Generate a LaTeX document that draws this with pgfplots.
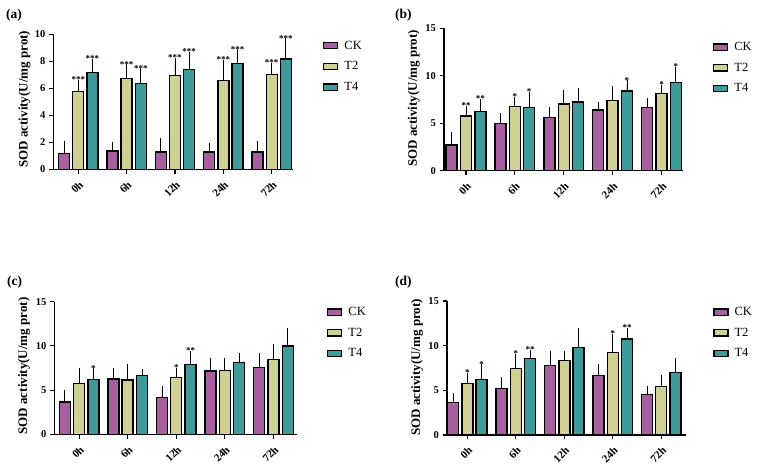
\documentclass[border=0pt]{standalone}
\usepackage{pgfplots}
\pgfplotsset{compat=1.18}
\usepackage{pgfplotstable}
\usepackage{fontspec}
\setmainfont{Liberation Serif}
\definecolor{ckc}{HTML}{A85FA0}
\definecolor{t2c}{HTML}{D0CF94}
\definecolor{t4c}{HTML}{3E9B9A}

\pgfplotstableread{
g ck cke t2 t2e t4 t4e ckl t2l t4l
0 1.19 0.62 5.78 0.62 7.20 0.74 {} *** ***
1 1.36 0.40 6.75 0.77 6.38 0.84 {} *** ***
2 1.29 0.77 6.95 1.04 7.42 1.02 {} *** ***
3 1.29 0.42 6.60 1.24 7.84 0.80 {} *** ***
4 1.27 0.60 7.05 0.60 8.19 1.26 {} *** ***
}\dataA
\pgfplotstableread{
g ck cke t2 t2e t4 t4e ckl t2l t4l
0 2.69 1.05 5.77 0.66 6.22 0.95 {} ** **
1 4.97 0.73 6.75 0.63 6.64 1.30 {} * *
2 5.63 0.70 7.03 1.08 7.24 1.12 {} {} {}
3 6.40 0.52 7.38 1.22 8.39 0.77 {} {} *
4 6.68 0.60 8.11 0.56 9.30 1.30 {} * *
}\dataB
\pgfplotstableread{
g ck cke t2 t2e t4 t4e ckl t2l t4l
0 3.67 0.94 5.77 1.28 6.22 0.83 {} {} *
1 6.26 0.83 6.15 1.46 6.64 0.33 {} {} {}
2 4.16 0.94 6.45 0.64 7.87 1.17 {} * **
3 7.16 1.13 7.20 1.01 8.14 0.71 {} {} {}
4 7.54 1.31 8.47 1.32 10.01 1.65 {} {} {}
}\dataC
\pgfplotstableread{
g ck cke t2 t2e t4 t4e ckl t2l t4l
0 3.66 0.67 5.75 0.82 6.23 1.27 {} * *
1 5.22 0.90 7.46 1.27 8.54 0.60 {} * **
2 7.80 1.23 8.36 0.63 9.78 1.82 {} {} {}
3 6.64 0.93 9.25 1.68 10.75 0.82 {} * **
4 4.51 0.60 5.41 0.97 7.01 1.27 {} {} {}
}\dataD

\pgfplotsset{
  sod/.style={
    scale only axis,
    anchor=south west,
    axis lines*=left,
    axis line style={line width=1.4pt},
    tick align=outside,
    major tick length=4.5pt,
    tick style={line width=1.1pt, black},
    ymin=0,
    xtick={0,1,2,3,4},
    xticklabels={0h,6h,12h,24h,72h},
    /pgf/number format/assume math mode=true,
    tick label style={font=\fontsize{10.5}{11}\selectfont\bfseries},
    x tick label style={font=\fontsize{11}{11}\selectfont\bfseries, rotate=45, anchor=north east, inner sep=0pt, xshift=-4.2pt, yshift=-4.6pt},
    ylabel={SOD activity(U/mg prot)},
    ylabel style={font=\fontsize{13}{13}\selectfont\bfseries, anchor=center},
    legend style={draw=none, fill=none, inner sep=0pt, row sep=7pt,
      font=\fontsize{12.5}{12}\selectfont, anchor=north west,
      /tikz/every odd column/.append style={column sep=4pt}},
    legend cell align=left,
    clip=false,
  },
  sbar/.style={ybar, bar width=11pt, bar shift=0pt, fill=#1, draw=black, line width=1.4pt, forget plot,
    error bars/.cd, y dir=plus, y explicit,
    error bar style={line width=0.9pt, black},
    error mark options={line width=0.9pt, black, mark size=3.5pt}},
  sleg/.style={legend image code/.code={\draw[fill=#1, draw=black, line width=1.3pt] (0pt,-3.2pt) rectangle (14pt,3.2pt);}},
  slab/.style={draw=none, mark=none, forget plot, nodes near coords,
    point meta=explicit symbolic,
    every node near coord/.append style={font=\fontsize{9}{8}\selectfont\bfseries, inner sep=0.5pt, anchor=south}},
}

\newcommand{\panel}[1]{%
  \addplot[sbar=ckc] table[x expr=\thisrow{g}-0.294, y=ck, y error=cke] {#1};
  \addplot[sbar=t2c] table[x expr=\thisrow{g}, y=t2, y error=t2e] {#1};
  \addplot[sbar=t4c] table[x expr=\thisrow{g}+0.294, y=t4, y error=t4e] {#1};
  \addplot[slab] table[x expr=\thisrow{g}-0.294, y expr=\thisrow{ck}+\thisrow{cke}, meta=ckl] {#1};
  \addplot[slab] table[x expr=\thisrow{g}, y expr=\thisrow{t2}+\thisrow{t2e}, meta=t2l] {#1};
  \addplot[slab] table[x expr=\thisrow{g}+0.294, y expr=\thisrow{t4}+\thisrow{t4e}, meta=t4l] {#1};
  \addlegendimage{sleg=ckc}\addlegendentry{CK}
  \addlegendimage{sleg=t2c}\addlegendentry{T2}
  \addlegendimage{sleg=t4c}\addlegendentry{T4}
}

\begin{document}
\begin{tikzpicture}
\useasboundingbox (0pt,0pt) rectangle (757pt,476pt);
% (a)
\begin{axis}[sod, at={(53.5pt,306.7pt)}, width=239.5pt, height=134.8pt,
  xmin=-0.512, xmax=4.44, ymax=10, ytick={0,2,4,6,8,10},
  ylabel style={at={(axis description cs:-0.121,0.52)}},
  legend style={at={(axis description cs:1.125,0.97)}}]
\panel{\dataA}
\end{axis}
% (b)
\begin{axis}[sod, at={(444pt,305.3pt)}, width=239pt, height=142.4pt,
  xmin=-0.45, xmax=4.44, ymax=15, ytick={0,5,10,15},
  ylabel style={at={(axis description cs:-0.126,0.508)}},
  legend style={at={(axis description cs:1.125,0.918)}}]
\panel{\dataB}
\end{axis}
% (c)
\begin{axis}[sod, at={(54.3pt,41.7pt)}, width=243pt, height=132.6pt,
  xmin=-0.51, xmax=4.49, ymax=15, ytick={0,5,10,15},
  ylabel style={at={(axis description cs:-0.125,0.515)}},
  legend style={at={(axis description cs:1.122,0.975)}}]
\panel{\dataC}
\end{axis}
% (d)
\begin{axis}[sod, at={(447pt,41pt)}, width=239pt, height=134pt,
  xmin=-0.42, xmax=4.51, ymax=15, ytick={0,5,10,15},
  ylabel style={at={(axis description cs:-0.125,0.504)}},
  legend style={at={(axis description cs:1.113,0.97)}}]
\panel{\dataD}
\end{axis}
\node[anchor=west, inner sep=0pt, font=\fontsize{13.5}{14}\selectfont\bfseries] at (6pt,461pt) {(a)};
\node[anchor=west, inner sep=0pt, font=\fontsize{13.5}{14}\selectfont\bfseries] at (395pt,461pt) {(b)};
\node[anchor=west, inner sep=0pt, font=\fontsize{13.5}{14}\selectfont\bfseries] at (7pt,194pt) {(c)};
\node[anchor=west, inner sep=0pt, font=\fontsize{13.5}{14}\selectfont\bfseries] at (395pt,194pt) {(d)};
\end{tikzpicture}
\end{document}
